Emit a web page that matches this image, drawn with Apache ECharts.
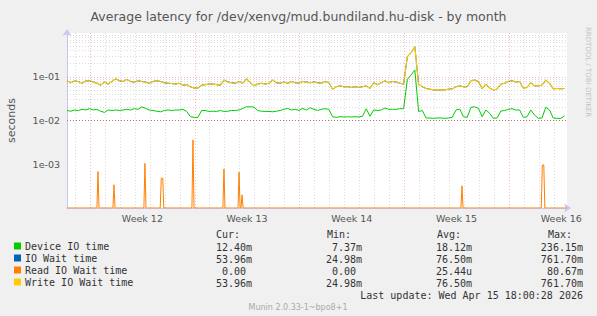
<!DOCTYPE html>
<html><head><meta charset="utf-8">
<script src="https://cdn.jsdelivr.net/npm/echarts@6/dist/echarts.min.js"></script>
<style>html,body{margin:0;padding:0;background:#f0f0f0;}#c{width:597px;height:316px;}</style>
</head><body><div id="c"></div>
<script>
// ---- data (values in seconds, x in days from left edge of graph) ----
const stepDays = 0.25;
const deviceIoTime = [
0.0169,0.0163,0.0174,0.0169,0.0180,0.0174,0.0186,0.0174,0.0180,0.0163,
0.0153,0.0174,0.0169,0.0174,0.0169,0.0174,0.0180,0.0174,0.0186,0.0180,
0.0206,0.0189,0.0174,0.0169,0.0163,0.0158,0.0169,0.0174,0.0169,0.0174,
0.0174,0.0180,0.0161,0.0122,0.0118,0.0118,0.0169,0.0169,0.0161,0.0163,
0.0161,0.0169,0.0161,0.0163,0.0169,0.0169,0.0174,0.0189,0.0206,0.0206,
0.0203,0.0169,0.0163,0.0161,0.0161,0.0158,0.0163,0.0169,0.0180,0.0189,
0.0174,0.0180,0.0169,0.0189,0.0174,0.0196,0.0180,0.0169,0.0180,0.0186,
0.0180,0.0122,0.0118,0.0122,0.0120,0.0122,0.0120,0.0122,0.0120,0.0125,
0.0186,0.0125,0.0174,0.0169,0.0174,0.0193,0.0180,0.0180,0.0180,0.0186,
0.0186,0.087,0.110,0.143,0.0161,0.0169,0.0114,0.0114,0.0112,0.0114,
0.0114,0.0112,0.0114,0.0118,0.0174,0.0183,0.0122,0.0118,0.0200,0.0206,
0.0189,0.0122,0.0174,0.0146,0.0112,0.0114,0.0165,0.0169,0.0180,0.0186,
0.0174,0.0174,0.0118,0.0122,0.0174,0.0134,0.0112,0.0114,0.0200,0.0174,
0.0114,0.0112,0.0112,0.0127];
const writeIoWaitTime = [
0.081,0.073,0.080,0.078,0.071,0.080,0.081,0.076,0.071,0.064,
0.076,0.068,0.078,0.090,0.081,0.078,0.087,0.078,0.075,0.081,
0.078,0.076,0.071,0.078,0.081,0.078,0.073,0.071,0.070,0.068,
0.071,0.064,0.066,0.059,0.055,0.055,0.064,0.066,0.068,0.068,
0.066,0.064,0.084,0.076,0.073,0.071,0.078,0.071,0.090,0.073,
0.062,0.068,0.071,0.068,0.071,0.084,0.073,0.071,0.076,0.071,
0.078,0.073,0.071,0.078,0.076,0.073,0.076,0.073,0.071,0.078,
0.073,0.052,0.059,0.062,0.059,0.059,0.057,0.059,0.057,0.059,
0.062,0.054,0.073,0.066,0.073,0.081,0.073,0.078,0.076,0.071,
0.068,0.288,0.355,0.487,0.068,0.059,0.054,0.052,0.050,0.050,
0.050,0.050,0.052,0.053,0.059,0.062,0.059,0.059,0.081,0.084,
0.078,0.053,0.068,0.055,0.050,0.052,0.068,0.071,0.078,0.081,
0.076,0.078,0.055,0.057,0.073,0.062,0.062,0.064,0.084,0.071,
0.053,0.054,0.053,0.054];
// IO wait = read + write; read is ~0 almost everywhere, so it equals write
const ioWaitTime = writeIoWaitTime.slice();
// read IO wait: zero except short spikes
const readSpikeDays   = [2.07, 3.14, 5.21, 6.30, 6.40, 8.42, 10.49, 11.50, 11.70, 26.40, 31.77, 31.87];
const readSpikeValues = [6.8e-4, 3.4e-4, 1.05e-3, 4.8e-4, 4.8e-4, 3.6e-3, 7.8e-4, 6.6e-4, 2.0e-4, 3.2e-4, 9.6e-4, 9.6e-4];

const seriesNames = ['Device IO time','IO Wait time','Read IO Wait time','Write IO Wait time'];
const seriesColors = ['#00CC00','#0066B3','#FF8000','#FFCC00'];
const curValues = ['12.40m','53.96m','0.00\u00a0','53.96m'];
const minValues = ['7.37m','24.98m','0.00\u00a0','24.98m'];
const avgValues = ['18.12m','76.50m','25.44u','76.50m'];
const maxValues = ['236.15m','761.70m','80.67m','761.70m'];
const weekLabels = ['Week 12','Week 13','Week 14','Week 15','Week 16'];
const lastUpdate = 'Last update: Wed Apr 15 18:00:28 2026';

// ---- axes ----
const X_MAX = 33.42;
const Y_MIN = 1e-4, Y_MAX = 1;
const firstWeekStart = 1.537;
const weekStarts = weekLabels.map((_, k) => firstWeekStart + 7 * k);
const weekCenters = weekStarts.map(s => s + 3.5);
const dayLines = [];
for (let k = 0; firstWeekStart - 1 + k < X_MAX; k++) {
  if ((k - 1) % 7 !== 0) dayLines.push(firstWeekStart - 1 + k);
}
const minorY = [];
for (let e = -4; e < 0; e++) for (let m = 2; m <= 9; m++) minorY.push(m * Math.pow(10, e));
const majorY = [1e-3, 1e-2, 1e-1];

const toPts = arr => arr.map((v, i) => [i * stepDays, v]);
const readPts = [[0, Y_MIN]];
readSpikeDays.forEach((d, i) => {
  const prevClose = i > 0 && d - readSpikeDays[i - 1] < 0.15;
  const nextClose = i < readSpikeDays.length - 1 && readSpikeDays[i + 1] - d < 0.15;
  if (!prevClose) readPts.push([d - 0.07, Y_MIN]);
  readPts.push([d, Math.max(readSpikeValues[i], Y_MIN)]);
  if (!nextClose) readPts.push([d + 0.07, Y_MIN]);
});
readPts.push([X_MAX, Y_MIN]);

const gridGray = 'rgba(128,128,128,0.28)';
const gridRed = 'rgba(235,40,40,0.32)';
const mono = '"DejaVu Sans Mono", monospace';
const sans = '"DejaVu Sans", sans-serif';
const txtColor = '#333';

const chart = echarts.init(document.getElementById('c'), null, {renderer: 'svg'});
const lineSeries = (name, data, color, width) => ({
  name, type: 'line', data, symbol: 'none', showSymbol: false, animation: false, z: 3,
  lineStyle: {color, width: width || 1}, itemStyle: {color}, emphasis: {disabled: true}
});
const graphics = [];
const colRight = [252, 362, 472, 583];
const headers = ['Cur:', 'Min:', 'Avg:', 'Max:'];
const headerLeft = [216, 327, 437, 548];
const TY = 1.5;
headers.forEach((h, j) => graphics.push({type: 'text', silent: true, style: {text: h, x: headerLeft[j], y: 233 + TY, textAlign: 'left', textVerticalAlign: 'middle', font: '10px ' + mono, fill: txtColor}}));
[curValues, minValues, avgValues, maxValues].forEach((col, j) => {
  col.forEach((s, i) => graphics.push({type: 'text', silent: true, style: {text: s, x: colRight[j], y: 245.7 + 12 * i + TY, textAlign: 'right', textVerticalAlign: 'middle', font: '10px ' + mono, fill: txtColor}}));
});
graphics.push({type: 'text', silent: true, style: {text: lastUpdate, x: 583, y: 293.7 + TY, textAlign: 'right', textVerticalAlign: 'middle', font: '10px ' + mono, fill: txtColor}});
graphics.push({type: 'text', silent: true, style: {text: 'Munin 2.0.33-1~bpo8+1', x: 298, y: 305.5 + TY, textAlign: 'center', textVerticalAlign: 'middle', font: '8px ' + sans, fill: '#aaaaaa'}});
graphics.push({type: 'text', silent: true, x: 588, y: 72, rotation: -Math.PI / 2, style: {text: 'RRDTOOL / TOBI OETIKER', x: 0, y: 0, textAlign: 'center', textVerticalAlign: 'middle', font: '7px ' + sans, fill: '#c4c4c4'}});

chart.setOption({
  backgroundColor: '#f0f0f0',
  animation: false,
  title: {text: 'Average latency for /dev/xenvg/mud.bundiland.hu-disk - by month', left: 'center', top: 5,
    textStyle: {fontFamily: sans, fontSize: 12.5, fontWeight: 'normal', color: '#555'}},
  grid: {left: 67, top: 33, width: 500, height: 175, show: true, backgroundColor: '#ffffff', borderWidth: 0,
    containLabel: false, outerBoundsMode: 'none'},
  legend: {orient: 'vertical', left: 14, top: 240, padding: 0, icon: 'rect', itemWidth: 7, itemHeight: 7, itemGap: 0,
    selectedMode: false, data: seriesNames,
    textStyle: {fontFamily: mono, fontSize: 10, color: txtColor, lineHeight: 12, padding: [0, 0, 0, -1]}},
  xAxis: {type: 'value', min: 0, max: X_MAX,
    axisLine: {show: true, onZero: false, lineStyle: {color: '#c8c8f0'}, symbol: ['none', 'arrow'], symbolSize: [7, 7], symbolOffset: [0, 4]},
    axisTick: {show: false}, splitLine: {show: false},
    axisLabel: {customValues: weekCenters, margin: 5, fontFamily: sans, fontSize: 9.5, color: '#555',
      formatter: v => { const i = weekCenters.findIndex(c => Math.abs(c - v) < 0.01); return i >= 0 ? weekLabels[i] : ''; }}},
  yAxis: {type: 'log', logBase: 10, min: Y_MIN, max: Y_MAX,
    name: 'seconds', nameLocation: 'middle', nameGap: 50, nameRotate: 90,
    nameTextStyle: {fontFamily: sans, fontSize: 11, color: '#555'},
    axisLine: {show: true, lineStyle: {color: '#c8c8f0'}, symbol: ['none', 'arrow'], symbolSize: [7, 7], symbolOffset: [0, 4]},
    axisTick: {show: false}, splitLine: {show: false},
    axisLabel: {margin: 7, fontFamily: sans, fontSize: 9.5, color: '#555',
      formatter: v => { const e = Math.round(Math.log10(v)); if (e === 0 || e === -4) return ''; return '1e' + (e < 0 ? '-' : '+') + String(Math.abs(e)).padStart(2, '0'); }}},
  series: [
    {type: 'line', data: [], z: 1, silent: true, markLine: {silent: true, symbol: ['none', 'none'], label: {show: false}, animation: false,
      emphasis: {disabled: true},
      lineStyle: {color: gridGray, type: [1, 2], width: 1},
      data: [...dayLines.map(d => ({xAxis: d})), ...minorY.map(v => ({yAxis: v}))]}},
    {type: 'line', data: [], z: 2, silent: true, markLine: {silent: true, symbol: ['none', 'none'], label: {show: false}, animation: false,
      emphasis: {disabled: true},
      lineStyle: {color: gridRed, type: [1, 2], width: 1},
      data: [...weekStarts.map(d => ({xAxis: d})), ...majorY.map(v => ({yAxis: v}))]}},
    lineSeries(seriesNames[0], toPts(deviceIoTime), seriesColors[0]),
    lineSeries(seriesNames[1], toPts(ioWaitTime), seriesColors[1], 1),
    lineSeries(seriesNames[2], readPts, seriesColors[2]),
    lineSeries(seriesNames[3], toPts(writeIoWaitTime), seriesColors[3], 1.15)
  ],
  graphic: graphics
});
</script></body></html>
